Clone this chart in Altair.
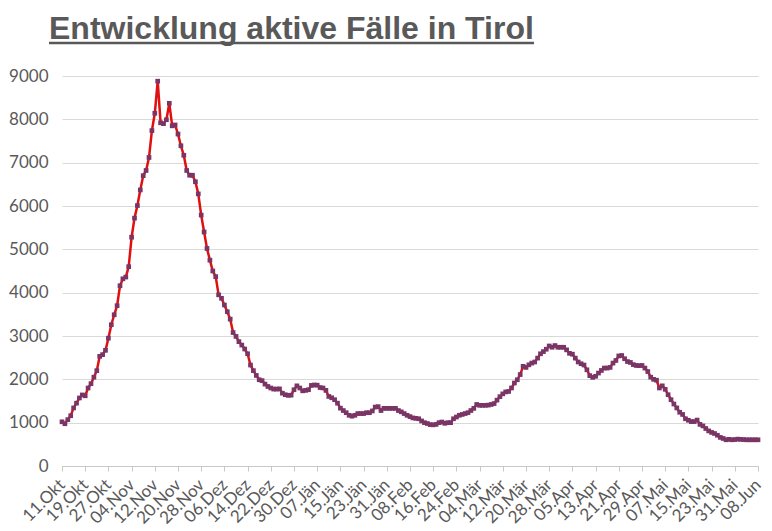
import json
import altair as alt
import pandas as pd

title_text = "Entwicklung aktive Fälle in Tirol"

# daily active cases, 11.Okt 2020 .. 08.Jun 2021 (241 days)
active_cases = [
    1020, 975, 1070, 1160, 1340, 1450, 1570, 1640, 1620, 1800,
    1900, 2050, 2200, 2530, 2570, 2670, 2950, 3260, 3490, 3700,
    4160, 4320, 4360, 4600, 5280, 5720, 6010, 6370, 6700, 6820,
    7120, 7740, 8140, 8880, 7920, 7900, 7990, 8370, 7850, 7870,
    7660, 7390, 7170, 6820, 6710, 6710, 6560, 6280, 5790, 5400,
    5020, 4750, 4500, 4370, 3950, 3870, 3715, 3560, 3390, 3080,
    2990, 2870, 2790, 2700, 2590, 2330, 2200, 2090, 1990, 1970,
    1890, 1835, 1800, 1775, 1775, 1780, 1680, 1645, 1630, 1635,
    1760, 1850, 1800, 1735, 1745, 1760, 1860, 1870, 1865, 1810,
    1800, 1745, 1605, 1575, 1530, 1450, 1335, 1280,
    1230, 1170, 1150, 1170, 1210, 1210, 1210, 1230, 1230, 1270,
    1360, 1370, 1280, 1330, 1330, 1330, 1330, 1330, 1280, 1250,
    1210, 1170, 1140, 1110, 1100, 1090, 1040, 1000, 980, 955,
    950, 960, 1000, 1015, 985, 1000, 1000, 1090, 1130, 1170,
    1190, 1210, 1230, 1280, 1330, 1420,
    1400, 1400, 1400, 1405, 1420, 1440, 1520, 1600, 1665, 1710,
    1720, 1800, 1915, 1990, 2110, 2300, 2275, 2335, 2375, 2400,
    2490, 2590, 2640, 2695, 2770, 2740, 2780, 2740, 2740, 2740,
    2680, 2600, 2580, 2490, 2400, 2360, 2330, 2220, 2085, 2045,
    2070, 2145, 2205, 2260, 2260, 2275, 2375, 2435, 2540, 2550,
    2475, 2410,
    2390, 2340, 2320, 2315, 2320, 2260, 2180,
    2050, 2000, 1980, 1800, 1850, 1770, 1645, 1530, 1430, 1340,
    1240, 1190, 1090, 1055, 1025, 1025, 1060, 960, 925, 865,
    810, 775, 750, 710, 660, 635, 605, 615, 605, 610,
    620, 615, 610, 605, 605, 605, 605, 605,
]

tick_labels = [
    "11.Okt", "19.Okt", "27.Okt", "04.Nov", "12.Nov", "20.Nov", "28.Nov",
    "06.Dez", "14.Dez", "22.Dez", "30.Dez", "07.Jän", "15.Jän", "23.Jän",
    "31.Jän", "08.Feb", "16.Feb", "24.Feb", "04.Mär", "12.Mär", "20.Mär",
    "28.Mär", "05.Apr", "13.Apr", "21.Apr", "29.Apr", "07.Mai", "15.Mai",
    "23.Mai", "31.Mai", "08.Jun",
]
tick_step = 8
y_ticks = [0, 1000, 2000, 3000, 4000, 5000, 6000, 7000, 8000, 9000]

df = pd.DataFrame({"day": list(range(len(active_cases))), "value": active_cases})

label_expr = json.dumps(tick_labels, ensure_ascii=False) + "[round(datum.value/8)]"
n_days = len(active_cases) - 1
tick_values = list(range(0, n_days + 1, tick_step))

GRAY = "#595959"
FONT = "Lato"

x_enc = alt.X(
    "day:Q",
    scale=alt.Scale(domain=[0, n_days], nice=False, zero=False),
    axis=alt.Axis(
        values=tick_values, labelExpr=label_expr, title=None, grid=False,
        labelAngle=315, labelAlign="right", labelBaseline="middle",
        labelFontSize=17, labelFont=FONT, labelColor=GRAY, labelPadding=11,
        domainColor="#c8c8c8", tickColor="#c8c8c8", tickSize=5,
        labelOverlap=False, labelBound=False, labelFlush=False,
    ),
)
y_enc = alt.Y(
    "value:Q",
    scale=alt.Scale(domain=[0, 9000], nice=False),
    axis=alt.Axis(
        values=y_ticks, format="d", title=None, domain=False, ticks=False,
        labelFontSize=17, labelFont=FONT, labelColor=GRAY, labelPadding=14,
        gridColor="#d9d9d9", gridWidth=1,
    ),
)

base = alt.Chart(df).encode(x=x_enc, y=y_enc)
line = base.mark_line(color="#e01010", strokeWidth=2.5)
points = base.mark_point(shape="square", filled=True, size=22, color="#7a3566", opacity=1)

one = pd.DataFrame({"t": [title_text]})
title = alt.Chart(one).mark_text(
    align="left", baseline="alphabetic", fontSize=32, font="Liberation Sans",
    fontWeight="bold", color=GRAY,
).encode(text="t:N", x=alt.value(-13), y=alt.value(-37))
underline = alt.Chart(one).mark_rule(color=GRAY, strokeWidth=2.6).encode(
    x=alt.value(-13), x2=alt.value(472), y=alt.value(-33)
)

chart = alt.layer(line, points, title, underline).properties(
    width=696, height=390,
    padding={"left": 54, "top": 68, "right": 6, "bottom": 62},
    autosize=alt.AutoSizeParams(type="none"),
).configure_view(stroke=None)

chart.save("out.html", embed_options={"renderer": "svg", "actions": False})
